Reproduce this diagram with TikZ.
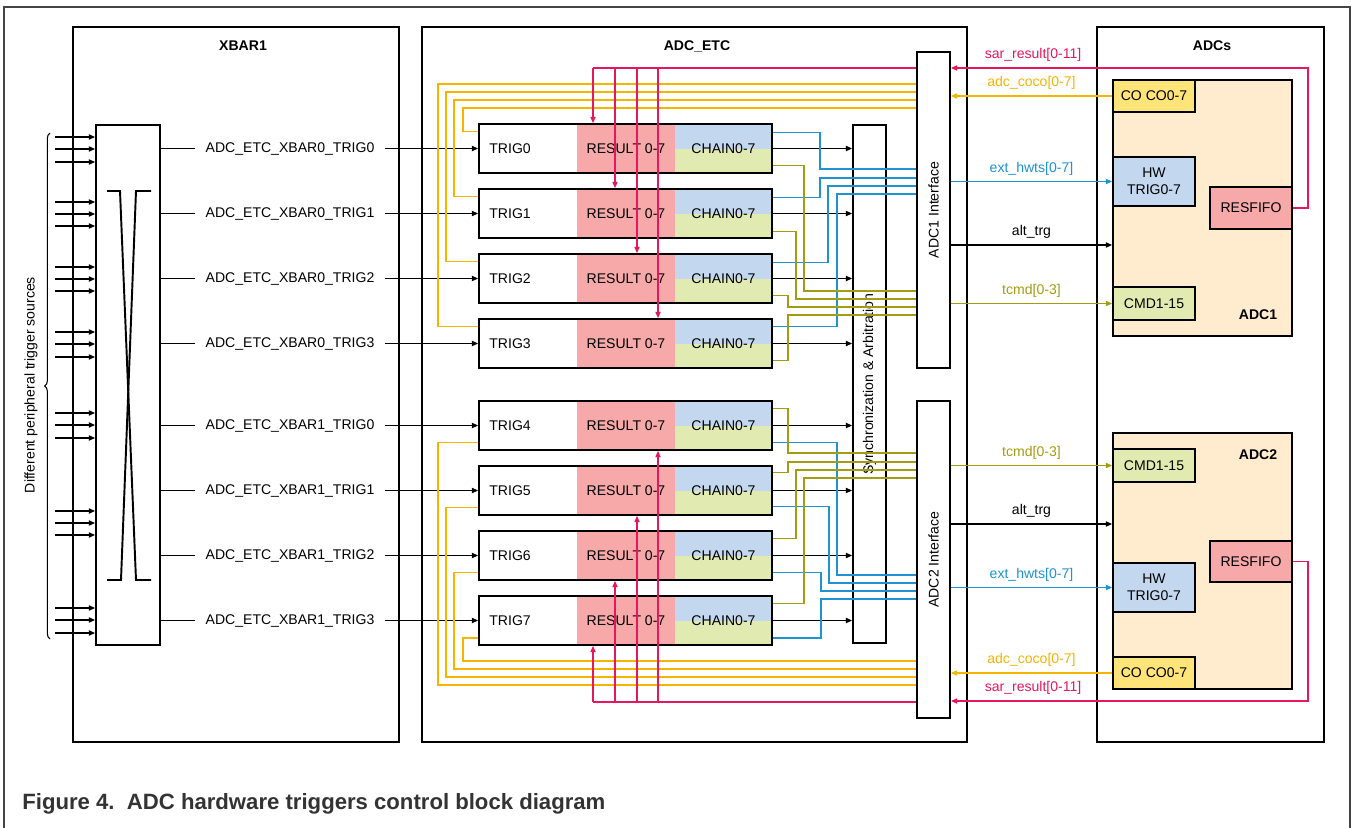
\documentclass[tikz,border=0pt]{standalone}
\usepackage{fontspec}
\setmainfont{Liberation Sans}
\usetikzlibrary{arrows.meta,calc,decorations.pathreplacing}

\definecolor{resrouge}{HTML}{F7A8A8}
\definecolor{chbleu}{HTML}{C3D8EF}
\definecolor{chvert}{HTML}{E1EAB0}
\definecolor{adcfond}{HTML}{FFEBCD}
\definecolor{cojaune}{HTML}{FFE47A}
\definecolor{cocol}{HTML}{F5B400}
\definecolor{sarcol}{HTML}{E5175F}
\definecolor{hwtscol}{HTML}{1F92D2}
\definecolor{tcmdcol}{HTML}{A39C12}
\definecolor{cadre}{HTML}{444444}

\newcommand{\petit}{\fontsize{8}{9.6}\selectfont}

\tikzset{
    bloc/.style 2 args={draw, line width=1.1pt, minimum width=#1*0.02cm,
        minimum height=#2*0.02cm, inner sep=0pt},
    fl/.style={-{Triangle[length=3.5pt,width=3pt]}},
    fil/.style={line width=0.6pt},
    coco/.style={fil, cocol},
    sar/.style={fil, sarcol},
    hwts/.style={fil, hwtscol},
    tcmd/.style={fil, tcmdcol},
    titre/.style={font=\petit\bfseries},
}

\begin{document}
\begin{tikzpicture}[x=0.02cm, y=-0.02cm, font=\petit]
    \useasboundingbox (0,0) rectangle (1352,828);
    \fill[white] (0,0) rectangle (1352,828);

    % Dessine le cadre et la légende
    \draw[cadre, line width=1.1pt] (4,840) -- (4,7) -- (1350,7) -- (1350,840);
    \node[anchor=base west, inner sep=0pt, text=black!80,
        font=\fontsize{12.6}{15}\selectfont\bfseries] (legende) at (22,809)
        {Figure 4.\ \ ADC hardware triggers control block diagram};

    % Dessine les trois grands blocs
    \node[bloc={326}{715}] (xbar) at (236,384.5) {};
    \node[titre] (txbar) at (243,46) {XBAR1};
    \node[bloc={545}{715}] (etc) at (694.5,384.5) {};
    \node[titre] (tetc) at (697,46) {ADC\_ETC};
    \node[bloc={227}{715}] (adcs) at (1210.5,384.5) {};
    \node[titre] (tadcs) at (1212,46) {ADCs};

    % Dessine le XBAR
    \node[bloc={64}{520}] (mux) at (128,385) {};
    \draw[line width=1.1pt] (107,191) -- (120,191) -- (136,580) -- (151,580);
    \draw[line width=1.1pt] (107,580) -- (121,580) -- (136,191) -- (151,191);
    \foreach \y in {137,149,162,202,214,226,267,279,291,332,344,357,
                    413,425,438,511,523,535,608,620,633}
        \draw[fil,fl] (55,\y) -- (mux.west |- 0,\y);
    \draw[fil, decorate, decoration={brace, amplitude=3pt}] (50,639) -- (50,133);
    \node[rotate=90] (sources) at (31,385) {Different peripheral trigger sources};

    % Dessine les blocs TRIG
    \foreach \i/\y in {0/148.5,1/213.5,2/278.5,3/343.5,4/425.5,5/490.5,6/555.5,7/620.5} {
        \node[bloc={98}{49}, draw=none, fill=resrouge] (res\i) at (626,\y) {RESULT 0-7};
        \node[bloc={97}{49}, draw=none, fill=chbleu, path picture={
            \fill[chvert] (path picture bounding box.west)
                rectangle (path picture bounding box.south east);}]
            (chain\i) at (723.5,\y) {CHAIN0-7};
        \node[bloc={293}{49}] (trig\i) at (625.5,\y) {};
        \node[anchor=west, inner sep=0pt] (nt\i) at (489,\y) {TRIG\i};
    }

    % Sorties du XBAR vers les TRIG
    \foreach \i/\b/\t in {0/0/0,1/0/1,2/0/2,3/0/3,4/1/0,5/1/1,6/1/2,7/1/3} {
        \node[inner xsep=5.7pt] (xl\i) at (290,0 |- trig\i) {ADC\_ETC\_XBAR\b\_TRIG\t};
        \draw[fil] (mux.east |- xl\i) -- (xl\i.west);
        \draw[fil,fl] (xl\i.east) -- (trig\i.west);
    }

    % Arbitrage et interfaces
    \node[bloc={33}{518}] (sync) at (869.5,384) {};
    \node[rotate=90] (tsync) at (sync) {Synchronization \& Arbitration};
    \node[bloc={33}{316}] (adc1if) at (933.5,210) {};
    \node[rotate=90] (tadc1if) at (adc1if) {ADC1 Interface};
    \node[bloc={33}{317}] (adc2if) at (933.5,559.5) {};
    \node[rotate=90] (tadc2if) at (adc2if) {ADC2 Interface};
    \foreach \i in {0,...,7}
        \draw[fil,fl] (chain\i.east) -- (sync.west |- chain\i.east);

    % Lignes ext_hwts et tcmd
    \foreach \i/\dy/\x/\l in {0/9/820/169,1/9/820/178,2/9/828/186,3/8/837/194}
        \draw[hwts] ($(trig\i.north east)+(0,\dy)$) -| (\x,\l) -- (adc1if.west |- 0,\l);
    \foreach \i/\dy/\x/\l in {0/8/804/291,1/7/796/299,2/8/788/307,3/8/788/315}
        \draw[tcmd] ($(trig\i.south east)+(0,-\dy)$) -| (\x,\l) -- (adc1if.west |- 0,\l);
    \foreach \i/\dy/\x/\l in {4/8/837/575,5/9/829/583,6/8/821/591,7/8/821/599}
        \draw[hwts] ($(trig\i.south east)+(0,-\dy)$) -| (\x,\l) -- (adc2if.west |- 0,\l);
    \foreach \i/\dy/\x/\l in {4/8/788/453,5/7/788/462,6/8/796/470,7/8/804/478}
        \draw[tcmd] ($(trig\i.north east)+(0,\dy)$) -| (\x,\l) -- (adc2if.west |- 0,\l);

    % Lignes adc_coco
    \foreach \i/\dy/\x/\l in {0/8/463/108,1/8/454/100,2/8/446/92,3/8/438/84}
        \draw[coco] ($(trig\i.north west)+(0,\dy)$) -| (\x,\l) -- (adc1if.west |- 0,\l);
    \foreach \i/\dy/\x/\l in {4/8/438/685,5/8/446/677,6/8/454/669,7/8/463/661}
        \draw[coco] ($(trig\i.south west)+(0,-\dy)$) -| (\x,\l) -- (adc2if.west |- 0,\l);

    % Lignes sar_result
    \draw[sar] (adc1if.west |- 0,68) -- (593,68);
    \foreach \i/\x in {0/593,1/615,2/637,3/658}
        \draw[sar,fl] (\x,68) -- (trig\i.north -| \x,0);
    \draw[sar] (adc2if.west |- 0,702) -- (593,702);
    \foreach \i/\x in {7/593,6/615,5/637,4/658}
        \draw[sar,fl] (\x,702) -- (trig\i.south -| \x,0);

    % Dessine ADC1
    \node[bloc={179}{256}, fill=adcfond] (adc1) at (1202.5,208) {};
    \node[bloc={82}{32}, fill=cojaune] (co1) at (1154,96) {CO CO0-7};
    \node[bloc={82}{49}, fill=chbleu, align=center] (hw1) at (1154,181.5) {HW\\TRIG0-7};
    \node[bloc={82}{42}, fill=resrouge] (fifo1) at (1251,208) {RESFIFO};
    \node[bloc={82}{33}, fill=chvert] (cmd1) at (1154,303.5) {CMD1-15};
    \node[titre] (tadc1) at (1258,315) {ADC1};

    % Dessine ADC2
    \node[bloc={179}{256}, fill=adcfond] (adc2) at (1202.5,561) {};
    \node[bloc={82}{33}, fill=chvert] (cmd2) at (1154,465.5) {CMD1-15};
    \node[bloc={82}{49}, fill=chbleu, align=center] (hw2) at (1154,587.5) {HW\\TRIG0-7};
    \node[bloc={82}{41}, fill=resrouge] (fifo2) at (1251,561.5) {RESFIFO};
    \node[bloc={82}{32}, fill=cojaune] (co2) at (1154,673) {CO CO0-7};
    \node[titre] (tadc2) at (1258,455) {ADC2};

    % Liaisons interfaces - ADC
    \draw[sar,fl] (fifo1.east) -| (1308,68)
        -- node[above, pos=0.77] (lsar1) {sar\_result[0-11]} (adc1if.east |- 0,68);
    \draw[coco,fl] (co1.west) -- node[above] (lcoco1) {adc\_coco[0-7]} (adc1if.east |- co1.west);
    \draw[hwts,fl] (adc1if.east |- hw1.west) -- node[above] (lhw1) {ext\_hwts[0-7]} (hw1.west);
    \draw[fil,fl] (adc1if.east |- 0,245) -- node[above] (lalt1) {alt\_trg} (adc1.west |- 0,245);
    \draw[tcmd,fl] (adc1if.east |- cmd1.west) -- node[above] (ltc1) {tcmd[0-3]} (cmd1.west);

    \draw[tcmd,fl] (adc2if.east |- cmd2.west) -- node[above] (ltc2) {tcmd[0-3]} (cmd2.west);
    \draw[fil,fl] (adc2if.east |- 0,524) -- node[above] (lalt2) {alt\_trg} (adc2.west |- 0,524);
    \draw[hwts,fl] (adc2if.east |- hw2.west) -- node[above] (lhw2) {ext\_hwts[0-7]} (hw2.west);
    \draw[coco,fl] (co2.west) -- node[above] (lcoco2) {adc\_coco[0-7]} (adc2if.east |- co2.west);
    \draw[sar,fl] (fifo2.east) -| (1308,701)
        -- node[above, pos=0.77] (lsar2) {sar\_result[0-11]} (adc2if.east |- 0,701);
\end{tikzpicture}
\end{document}
